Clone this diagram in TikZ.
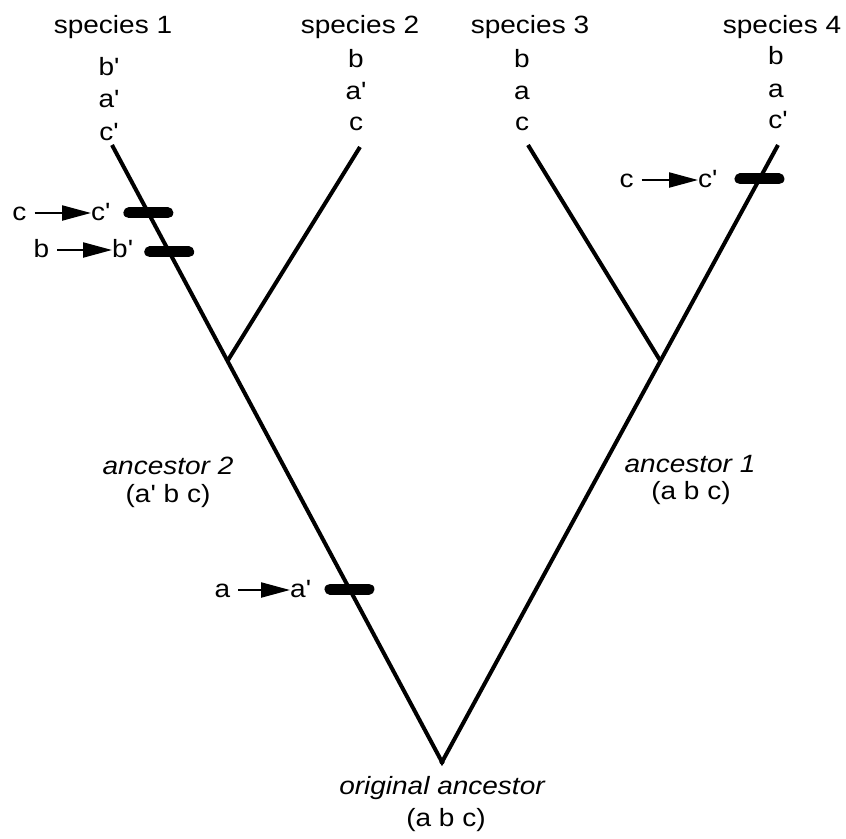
\documentclass[tikz,border=0pt]{standalone}
\usepackage{fontspec}
\newfontfamily\lsans{Liberation Sans}[FakeStretch=1.12]
\usetikzlibrary{arrows.meta,calc}
\begin{document}
\begin{tikzpicture}[x=1pt,y=-1pt,
  txt/.style={font=\lsans\fontsize{25}{30}\selectfont, inner sep=0pt, anchor=base},
  itxt/.style={txt, font=\lsans\fontsize{25}{30}\selectfont\itshape},
  mtxt/.style={font=\lsans\fontsize{25}{30}\selectfont, inner sep=0pt, text height=14pt, text depth=0pt},
  branch/.style={line width=4pt},
  bar/.style={line width=11pt, line cap=round},
  mut/.style={line width=2.2pt, shorten <=8pt},
  mutarrow/.tip={Triangle[length=29pt,width=15pt]},
]
\useasboundingbox (0,0) rectangle (846,838);

% tree coordinates
\coordinate (root) at (442,762);
\coordinate (t1) at (112,145);
\coordinate (t2) at (360,147);
\coordinate (t3) at (528,145);
\coordinate (t4) at (778,145);
\coordinate (j2) at ($(root)!0.65!(t1)$);
\coordinate (j1) at ($(root)!0.65!(t4)$);

\draw[branch] (t1) -- (root) -- (t4);
\draw[branch] (j2) -- (t2);
\draw[branch] (j1) -- (t3);
\fill (root) circle (2.6pt);

% mutation bars
\coordinate (b1) at ($(root)!0.8898!(t1)$);
\coordinate (b2) at ($(root)!0.8266!(t1)$);
\coordinate (b3) at ($(root)!0.2804!(t1)$);
\coordinate (b4) at ($(root)!0.9449!(t4)$);
\foreach \b in {b1,b2,b3,b4}
  \draw[bar] ([xshift=-19.5pt]\b) -- ([xshift=19.5pt]\b);

% species labels
\node[txt] (sp1) at (113,33) {species 1};
\node[txt] (sp2) at (360,33) {species 2};
\node[txt] (sp3) at (530,33) {species 3};
\node[txt] (sp4) at (782,33) {species 4};

% gene columns
\node[txt] (s1b) at (109,75) {b'};
\node[txt] (s1a) at (109,107) {a'};
\node[txt] (s1c) at (109,140) {c'};
\node[txt] (s2b) at (356,67) {b};
\node[txt] (s2a) at (356,99) {a'};
\node[txt] (s2c) at (356,130) {c};
\node[txt] (s3b) at (522,67) {b};
\node[txt] (s3a) at (522,99) {a};
\node[txt] (s3c) at (522,130) {c};
\node[txt] (s4b) at (776,64) {b};
\node[txt] (s4a) at (776,97) {a};
\node[txt] (s4c) at (778,128) {c'};

% mutation arrows
\node[mtxt] (m1f) at (19.5,213) {c};
\node[mtxt,anchor=west] (m1t) at (91,213) {c'};
\draw[mut,-mutarrow] (m1f) -- (m1t);
\node[mtxt] (m2f) at (41.5,250) {b};
\node[mtxt,anchor=west] (m2t) at (112,250) {b'};
\draw[mut,-mutarrow] (m2f) -- (m2t);
\node[mtxt] (m3f) at (222.5,590) {a};
\node[mtxt,anchor=west] (m3t) at (290,590) {a'};
\draw[mut,-mutarrow] (m3f) -- (m3t);
\node[mtxt] (m4f) at (626.5,180) {c};
\node[mtxt,anchor=west] (m4t) at (698,180) {c'};
\draw[mut,-mutarrow] (m4f) -- (m4t);

% ancestors
\node[itxt] (a2) at (168,474) {ancestor 2};
\node[txt] (a2g) at (168,502) {(a' b c)};
\node[itxt] (a1) at (690,472) {ancestor 1};
\node[txt] (a1g) at (691,499) {(a b c)};
\node[itxt] (a0) at (442,794) {original ancestor};
\node[txt] (a0g) at (446,826) {(a b c)};
\end{tikzpicture}
\end{document}
